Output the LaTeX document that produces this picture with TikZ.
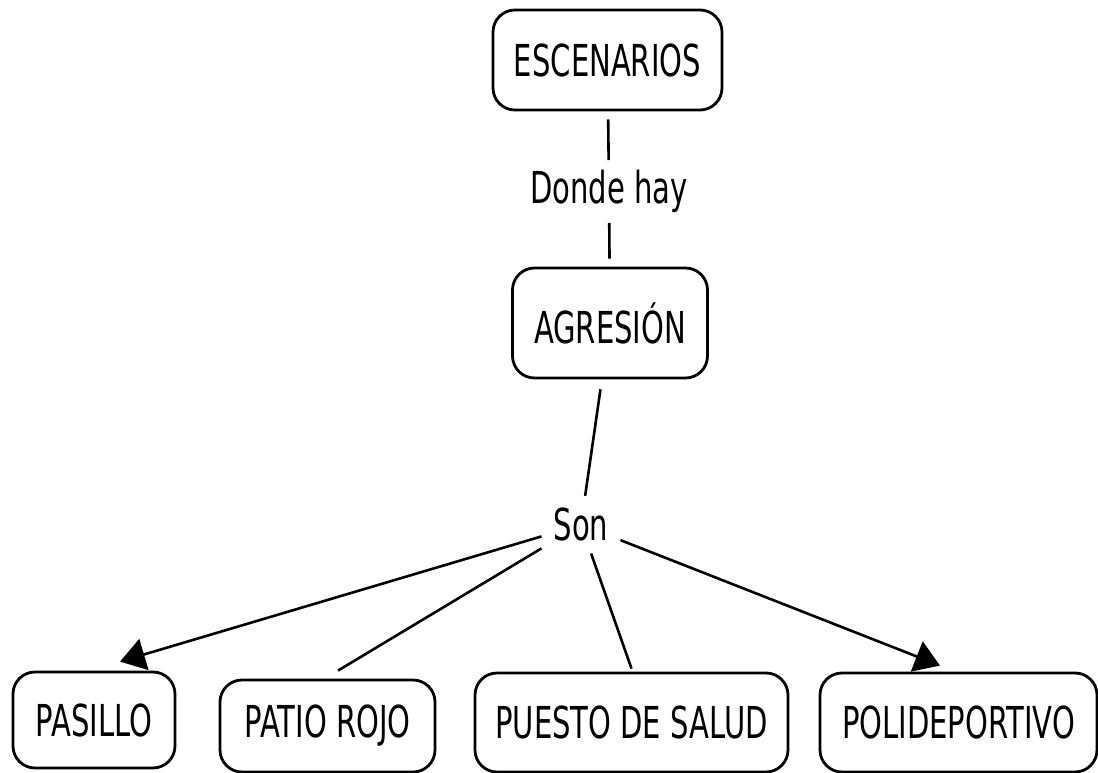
\documentclass[tikz,border=0pt]{standalone}
\usepackage{fontspec}
\setmainfont[FakeStretch=0.66]{DejaVu Sans}
\usetikzlibrary{calc}
\usetikzlibrary{arrows.meta}

\begin{document}
\begin{tikzpicture}[x=1pt, y=-1pt,
  font=\fontsize{44pt}{52pt}\selectfont,
  concept/.style={draw=black, line width=2.8pt, rounded corners=22pt, inner sep=0pt},
  linkword/.style={inner sep=10pt},
  link/.style={black, line width=2.6pt},
  linkarrow/.style={link, -{Triangle[length=25pt, width=32pt]}}]

  % Fix the canvas (pixel units, y pointing down)
  \useasboundingbox (0,0) rectangle (1098,773);

  % Draw the concept boxes
  \node[concept, minimum width=229pt, minimum height=100pt] (escenarios) at (607.5,60) {ESCENARIOS};
  \node[concept, minimum width=195pt, minimum height=110pt] (agresion) at (610,323) {AGRESIÓN};

  % Bottom row of concepts
  \node[concept, minimum width=162pt, minimum height=96pt] (pasillo) at (94,720) {PASILLO};
  \node[concept, minimum width=215pt, minimum height=92pt] (patio) at (327.5,726) {PATIO ROJO};
  \node[concept, minimum width=313pt, minimum height=99pt] (puesto) at (631.5,722.5) {PUESTO DE SALUD};
  \node[concept, minimum width=277pt, minimum height=99pt] (poli) at (958.5,722.5) {POLIDEPORTIVO};

  % Linking words
  \node[linkword] (dondehay) at (609,191.5) {Donde hay};
  \node[linkword, inner sep=12pt] (son) at (581,524.7) {Son};

  % Draw the links through the linking words
  \draw[link, shorten <=8pt] (escenarios) -- (dondehay);
  \draw[link, shorten >=8pt] (dondehay) -- (agresion);
  \draw[link, shorten <=10pt] (agresion) -- (son);

  % Links from Son to the bottom row
  \draw[linkarrow] (son) -- ($(pasillo.north)+(26,-9)$);
  \draw[link] (son) -- ($(patio.north)+(10.5,-8)$);
  \draw[link] (son) -- ($(puesto.north)+(0,-3)$);
  \draw[linkarrow] (son) -- ($(poli.north)+(-18.5,-6)$);

\end{tikzpicture}
\end{document}
